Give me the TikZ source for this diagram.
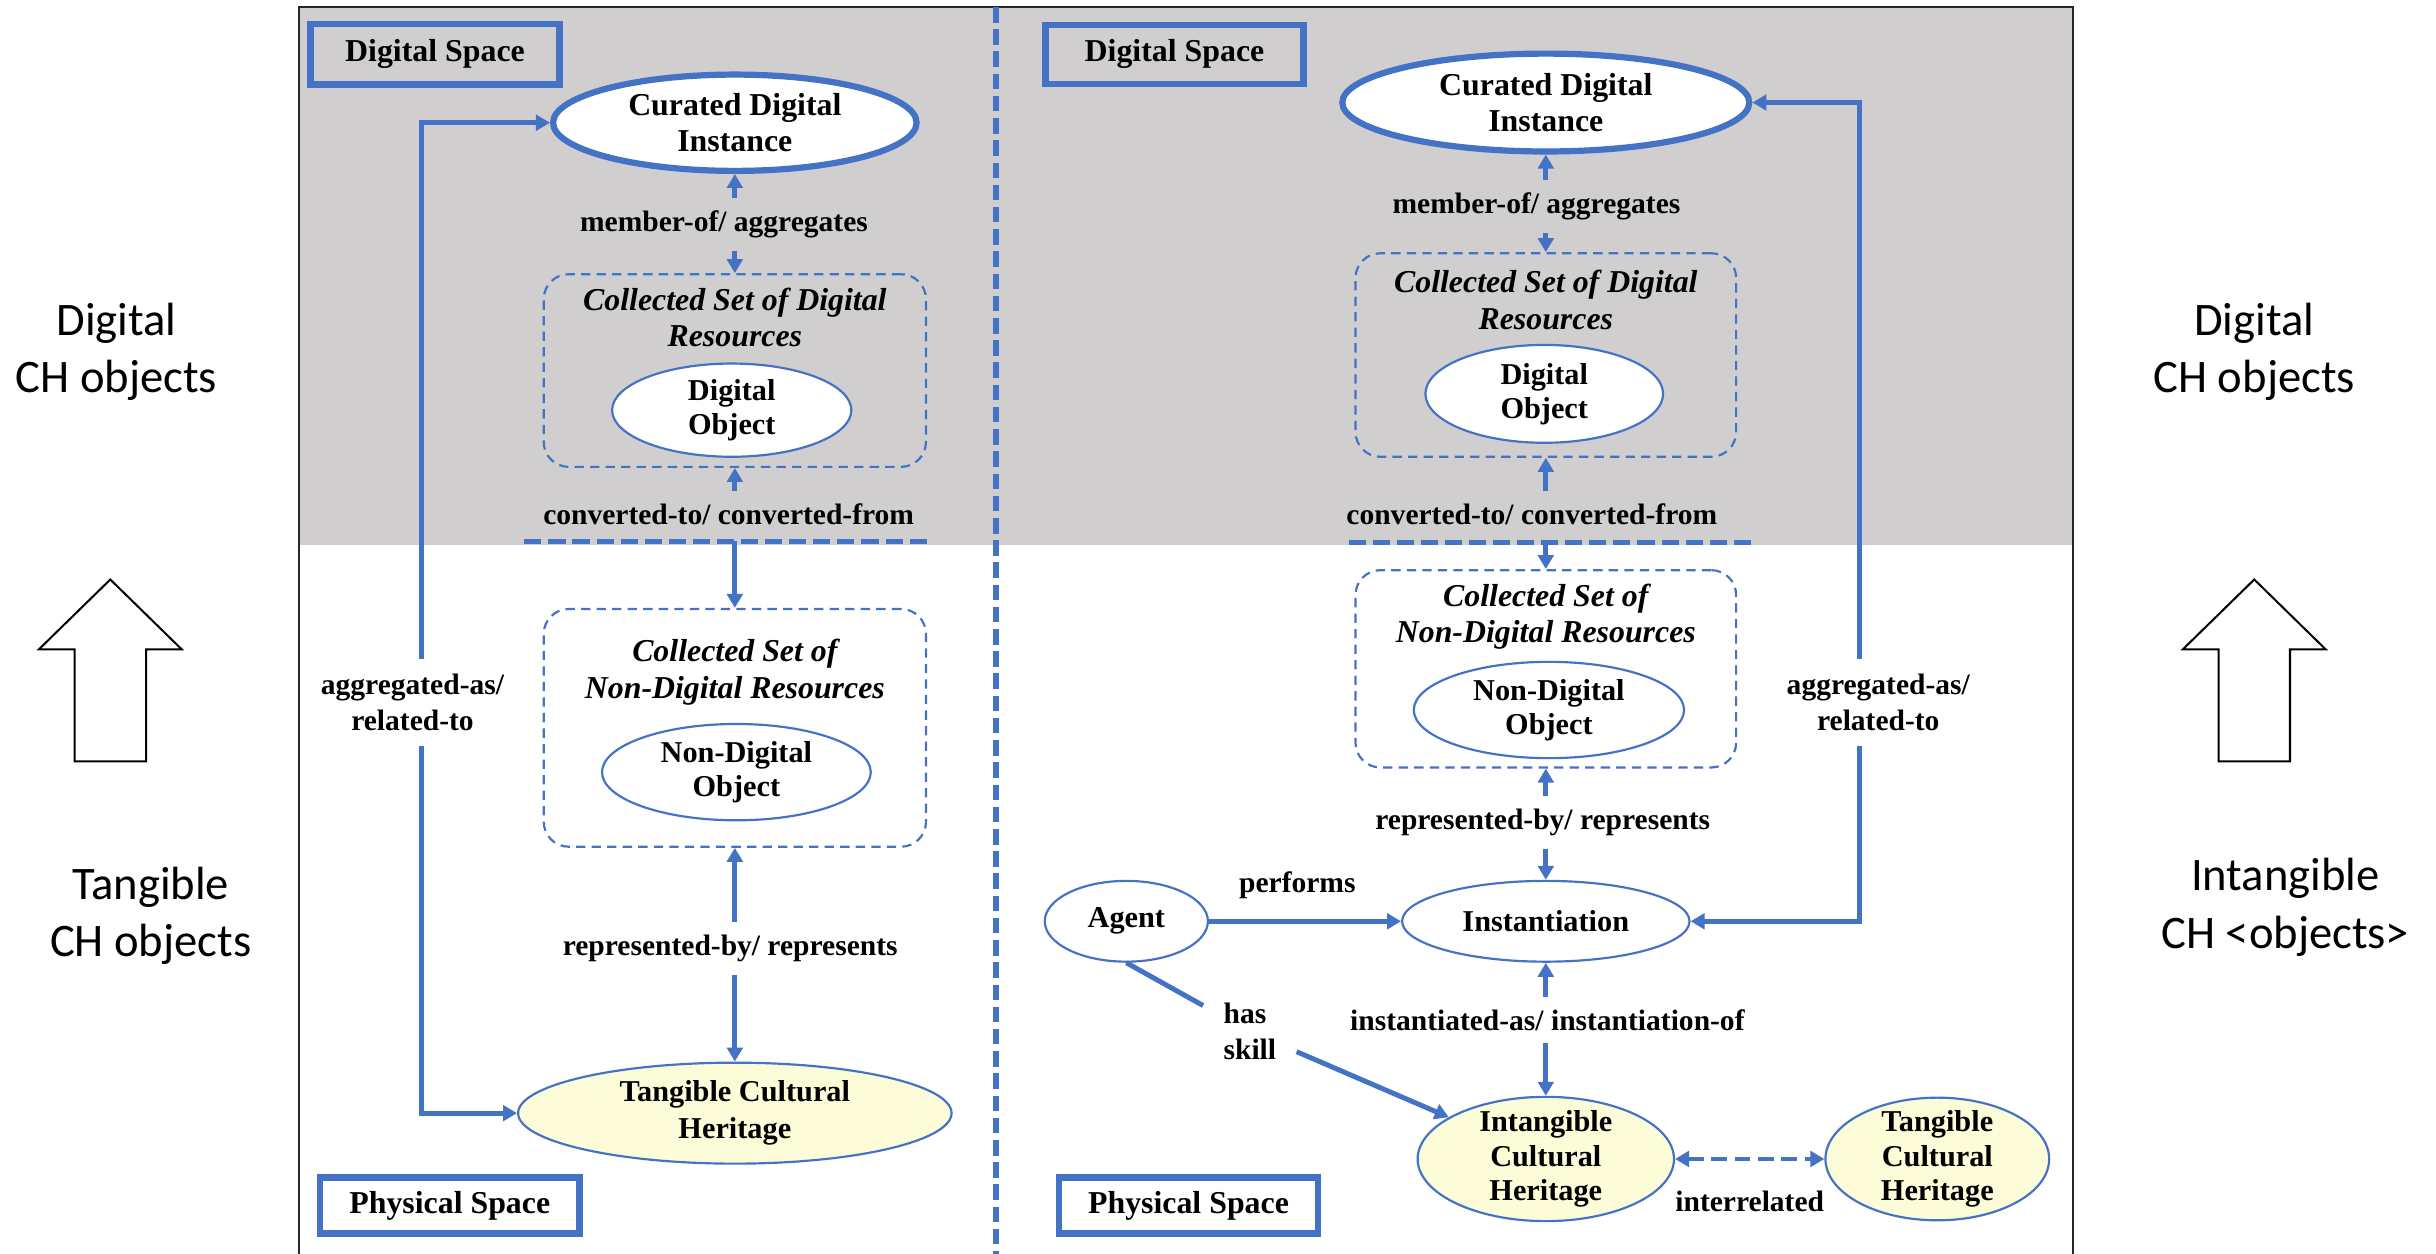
\documentclass[tikz,border=0pt]{standalone}
\usepackage{fontspec}
\setmainfont{Liberation Serif}
\newfontfamily\dgSideFont{Carlito}
\usetikzlibrary{shapes.geometric,arrows.meta}
\definecolor{myblue}{RGB}{68,114,196}
\definecolor{bggray}{RGB}{208,206,207}
\definecolor{chyellow}{RGB}{253,252,217}
\newcommand\dgNodeFont{\bfseries\fontsize{19.5}{22}\selectfont}
\newcommand\dgLblFont{\bfseries\fontsize{19}{23}\selectfont}
\newcommand\dgSetFont{\bfseries\itshape\fontsize{20.5}{23.5}\selectfont}
\newcommand\dgSpaceFont{\bfseries\fontsize{20.5}{24}\selectfont}
\tikzset{
  connline/.style={draw=myblue, line width=3.2pt},
  conn/.style={connline, -{Triangle[length=9pt,width=10pt]}},
  ell/.style={ellipse, draw=myblue, line width=1.4pt, fill=white, inner sep=0pt, align=center, font=\dgNodeFont},
  bigell/.style={ell, line width=4pt, font=\bfseries\fontsize{20.5}{23}\selectfont},
  chell/.style={ell, fill=chyellow},
  setbox/.style={rectangle, draw=myblue, line width=1.4pt, dash pattern=on 6pt off 4pt, rounded corners=16pt, inner sep=0pt},
  settitle/.style={align=center, font=\dgSetFont, inner sep=0pt},
  spacebox/.style={rectangle, draw=myblue, line width=4.2pt, inner sep=0pt, font=\dgSpaceFont},
  lbl/.style={align=center, font=\dgLblFont, inner xsep=3pt, inner ysep=8pt},
  sidetxt/.style={align=center, font=\dgSideFont\fontsize{30}{37}\selectfont, inner sep=0pt},
  blockarrow/.style={draw=black, line width=1.3pt, line join=miter},
  sepline/.style={draw=myblue, line width=3.2pt, dash pattern=on 11pt off 4.5pt},
}
\begin{document}
\begin{tikzpicture}[x=1pt,y=-1pt]
\useasboundingbox (0,0) rectangle (1568,807);
% background and frame
\fill[bggray] (192.5,4.5) rectangle (1334.5,350.5);
\draw[black!85, line width=1pt] (192.5,812) -- (192.5,4.5) -- (1334.5,4.5) -- (1334.5,812);
\draw[draw=myblue, line width=3.5pt, dash pattern=on 10pt off 4.3pt] (641,4.5) -- (641,812);

% space boxes
\node[spacebox, minimum width=160pt, minimum height=39pt] (dsl) at (280,35) {Digital Space};
\node[spacebox, minimum width=166pt, minimum height=38pt] (dsr) at (756,35) {Digital Space};
\node[spacebox, fill=white, minimum width=167pt, minimum height=36pt] (psl) at (289.5,776) {Physical Space};
\node[spacebox, fill=white, minimum width=167pt, minimum height=36pt] (psr) at (765,776) {Physical Space};

% ---------------- left column ----------------
\node[bigell, minimum width=234pt, minimum height=62pt] (curL) at (473,79) {Curated Digital\\Instance};
\node[setbox, minimum width=246pt, minimum height=124pt] (dsL) at (473,238.5) {};
\node[settitle] (dsLt) at (473,204.5) {Collected Set of Digital\\Resources};
\node[ell, minimum width=154pt, minimum height=60pt] (doL) at (471,264) {Digital\\Object};
\node[setbox, minimum width=246pt, minimum height=153pt] (ndsL) at (473,468.5) {};
\node[settitle] (ndsLt) at (473,432.5) {Collected Set of\\Non-Digital Resources};
\node[ell, minimum width=173pt, minimum height=62pt] (ndoL) at (474,497) {Non-Digital\\Object};
\node[chell, minimum width=279pt, minimum height=65pt, font=\bfseries\fontsize{19.5}{24}\selectfont] (tchL) at (473,716.5) {Tangible Cultural\\Heritage};

\node[lbl] (memL) at (466,144.5) {member-of/ aggregates};
\node[lbl] (convL) at (469,331) {converted-to/ converted-from};
\node[lbl] (repL) at (470,610.5) {represented-by/ represents};
\node[lbl, inner ysep=9.5pt] (aggL) at (265.5,452) {aggregated-as/\\related-to};
\coordinate (lx) at (271,0);
\coordinate (cvL) at (473,348.5);
\draw[sepline] (337.5,348.5) -- (596.5,348.5);

\draw[conn] (memL.north -| curL.south) -- (curL.south);
\draw[conn] (memL.south -| dsL.north) -- (dsL.north);
\draw[conn] (convL.north -| dsL.south) -- (dsL.south);
\draw[conn] (cvL) -- (ndsL.north);
\draw[conn] (repL.north -| ndsL.south) -- (ndsL.south);
\draw[conn] (repL.south -| tchL.north) -- (tchL.north);
\draw[conn] (aggL.north -| lx) |- (curL.west);
\draw[conn] (aggL.south -| lx) |- (tchL.west);

% ---------------- right column ----------------
\node[bigell, minimum width=262pt, minimum height=63pt] (curR) at (995,66) {Curated Digital\\Instance};
\node[setbox, minimum width=245pt, minimum height=131pt] (dsR) at (995,228.5) {};
\node[settitle] (dsRt) at (995,193) {Collected Set of Digital\\Resources};
\node[ell, minimum width=153pt, minimum height=63pt] (doR) at (994,253.5) {Digital\\Object};
\node[setbox, minimum width=245pt, minimum height=127pt] (ndsR) at (995,430.5) {};
\node[settitle] (ndsRt) at (995,397) {Collected Set of\\Non-Digital Resources};
\node[ell, minimum width=174pt, minimum height=62pt] (ndoR) at (997,457) {Non-Digital\\Object};
\node[ell, minimum width=185pt, minimum height=52pt] (inst) at (995,593) {Instantiation};
\node[ell, minimum width=105pt, minimum height=52pt] (agent) at (725,593) {Agent};
\node[chell, minimum width=165pt, minimum height=80pt, inner ysep=-3pt] (ich) at (995,746) {Intangible\\Cultural\\Heritage};
\node[chell, minimum width=144pt, minimum height=78pt, inner ysep=-3pt] (tchR) at (1247,746) {Tangible\\Cultural\\Heritage};

\node[lbl] (memR) at (989,133) {member-of/ aggregates};
\node[lbl] (convR) at (986,331) {converted-to/ converted-from};
\node[lbl] (repR) at (993,529.5) {represented-by/ represents};
\node[lbl] (instL) at (996,656.5) {instantiated-as/ instantiation-of};
\node[lbl, inner ysep=9.5pt] (aggR) at (1209,452) {aggregated-as/\\related-to};
\node[lbl, align=left, inner xsep=13pt, inner ysep=4pt] (hs) at (804.5,664) {has\\skill};
\coordinate (rx) at (1197,0);
\coordinate (cvR) at (995,349);
\draw[sepline] (868,349) -- (1131,349);

\draw[conn] (memR.north -| curR.south) -- (curR.south);
\draw[conn] (memR.south -| dsR.north) -- (dsR.north);
\draw[conn] (convR.north -| dsR.south) -- (dsR.south);
\draw[conn] (cvR) -- (ndsR.north);
\draw[conn] (repR.north -| ndsR.south) -- (ndsR.south);
\draw[conn] (repR.south -| inst.north) -- (inst.north);
\draw[conn] (instL.north -| inst.south) -- (inst.south);
\draw[conn] (instL.south -| ich.north) -- (ich.north);
\draw[conn] (aggR.north -| rx) |- (curR.east);
\draw[conn] (aggR.south -| rx) |- (inst.east);
\draw[conn] (agent) -- node[lbl, above=5pt, pos=0.46] (perf) {performs} (inst);
\draw[connline] (agent.south) -- (hs);
\draw[conn] (hs) -- (ich);
\draw[connline, dash pattern=on 10pt off 5pt, {Triangle[length=9pt,width=10pt]}-{Triangle[length=9pt,width=10pt]}] (ich) -- node[lbl, below=11pt] (irl) {interrelated} (tchR);

% ---------------- side annotations ----------------
\node[sidetxt] (sdl) at (75,226.5) {Digital\\CH objects};
\node[sidetxt] (stl) at (97,589.5) {Tangible\\CH objects};
\node[sidetxt] (sdr) at (1451,226.5) {Digital\\CH objects};
\node[sidetxt] (sir) at (1471,584) {Intangible\\CH <objects>};
\draw[blockarrow] (71,373) -- (117,418) -- (94,418) -- (94,490) -- (48,490) -- (48,418) -- (25,418) -- cycle;
\draw[blockarrow] (1451,373) -- (1497,418) -- (1474,418) -- (1474,490) -- (1428,490) -- (1428,418) -- (1405,418) -- cycle;
\end{tikzpicture}
\end{document}
